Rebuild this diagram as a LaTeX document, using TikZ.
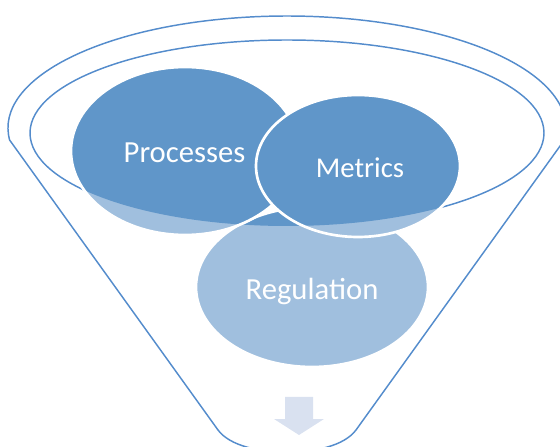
\documentclass[tikz,border=0pt]{standalone}
\usepackage{fontspec}
\setmainfont{Carlito}
\definecolor{funnelblue}{RGB}{84,140,204}
\definecolor{darkdisc}{RGB}{96,150,201}
\definecolor{lightdisc}{RGB}{160,191,222}
\definecolor{arrowgray}{RGB}{217,225,240}

\begin{document}
\begin{tikzpicture}[x=0.75pt,y=0.75pt,
      rim/.style={draw=funnelblue,line width=1.1pt,line join=round},
      disctext/.style={text=white,anchor=base,inner sep=0pt}]
      		\useasboundingbox (0,0) rectangle (560,446);
      		% funnel and its mouth
      		\draw[rim] (9.6,306) arc[start angle=186.15,end angle=-6.15,x radius=279,y radius=112] -- (356,16) .. controls (344,0) and (315,-6) .. (287,-6) .. controls (259,-6) and (230,0) .. (218,16) -- cycle;
      		\coordinate (mouth) at (287,313);
      		\draw[rim] (mouth) ellipse[x radius=257,y radius=93];
      		% three discs, darker inside the mouth
      		\coordinate (reg) at (312,159);
      		\coordinate (proc) at (185,295);
      		\coordinate (metr) at (358,280);
      		\foreach \c/\rx/\ry in {reg/116/80,proc/114/84,metr/102/71} {
      		    \fill[lightdisc] (\c) ellipse[x radius=\rx,y radius=\ry];
      		    \begin{scope}
      		        \clip (mouth) ellipse[x radius=257,y radius=93];
      		        \fill[darkdisc] (\c) ellipse[x radius=\rx,y radius=\ry];
      		    \end{scope}
      		    \draw[white,line width=2pt] (\c) ellipse[x radius=\rx,y radius=\ry];
      		}
      		\node[disctext,font=\fontsize{23}{28}\selectfont] (procText) at (184.5,283.5) {Processes};
      		\node[disctext,font=\fontsize{21.5}{26}\selectfont] (metrText) at (360,268.7) {Metrics};
      		\node[disctext,font=\fontsize{23}{28}\selectfont] (regText) at (312,146) {Regulation};
      		% output arrow
      		\fill[arrowgray] (285,49) -- (313,49) -- (313,27) -- (324,27) -- (299,11) -- (274,27) -- (285,27) -- cycle;
    	\end{tikzpicture}
\end{document}
